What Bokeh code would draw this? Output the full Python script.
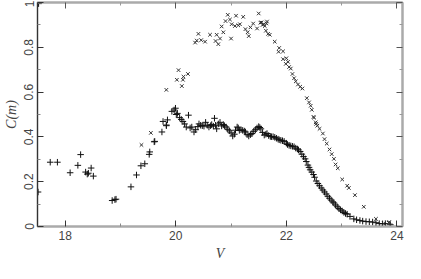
from bokeh.plotting import figure
from bokeh.models import FixedTicker, LinearAxis, Range1d
from bokeh.embed import file_html
from bokeh.resources import INLINE

plus_v = [17.51, 17.52, 17.73, 17.86, 18.09, 18.23, 18.28, 18.37, 18.40, 18.42, 18.47, 18.51,
          18.85, 18.90, 18.92, 19.19, 19.29, 19.37, 19.44, 19.52, 19.53, 19.61, 19.62, 19.75,
          19.77, 19.83, 19.83, 19.85, 19.93, 19.97, 19.995, 20.01, 20.03, 20.07, 20.10, 20.13,
          20.16, 20.19, 20.23, 20.26, 20.29, 20.33, 20.36, 20.40, 20.42, 20.45, 20.48, 20.51,
          20.54, 20.57, 20.60, 20.63, 20.65, 20.68, 20.70, 20.72, 20.74, 20.77, 20.80, 20.83,
          20.86, 20.88, 20.91, 20.94, 20.97, 21.00, 21.03, 21.06, 21.08, 21.11, 21.13, 21.15,
          21.18, 21.21, 21.24, 21.26, 21.29, 21.32, 21.35, 21.38, 21.41, 21.44, 21.47, 21.50,
          21.52, 21.54, 21.57, 21.60, 21.63, 21.65, 21.68, 21.71, 21.73, 21.76, 21.79, 21.82,
          21.85, 21.87, 21.90, 21.93, 21.96, 22.00, 22.02, 22.05, 22.08, 22.11, 22.14, 22.17,
          22.20, 22.22, 22.25, 22.28, 22.31, 22.34, 22.36, 22.39, 22.41, 22.43, 22.46, 22.49,
          22.51, 22.54, 22.57, 22.60, 22.63, 22.66, 22.69, 22.72, 22.75, 22.78, 22.81, 22.84,
          22.86, 22.89, 22.92, 22.95, 22.98, 23.01, 23.04, 23.07, 23.10, 23.15, 23.22, 23.27,
          23.33, 23.38, 23.44, 23.50, 23.56, 23.62, 23.68, 23.74, 23.79, 23.88]
plus_c = [0.154, 0.995, 0.287, 0.287, 0.240, 0.273, 0.321, 0.243, 0.234, 0.238, 0.261, 0.225,
          0.116, 0.120, 0.122, 0.177, 0.230, 0.271, 0.280, 0.322, 0.333, 0.378, 0.380, 0.422,
          0.469, 0.450, 0.453, 0.476, 0.514, 0.520, 0.528, 0.500, 0.505, 0.486, 0.478, 0.469,
          0.458, 0.444, 0.497, 0.440, 0.444, 0.422, 0.432, 0.446, 0.458, 0.452, 0.450, 0.448,
          0.465, 0.452, 0.444, 0.450, 0.455, 0.448, 0.483, 0.452, 0.436, 0.458, 0.465, 0.449,
          0.455, 0.450, 0.444, 0.434, 0.427, 0.418, 0.404, 0.412, 0.430, 0.444, 0.440, 0.429,
          0.432, 0.429, 0.426, 0.422, 0.410, 0.404, 0.410, 0.415, 0.425, 0.432, 0.440, 0.446,
          0.442, 0.436, 0.420, 0.408, 0.412, 0.415, 0.406, 0.402, 0.401, 0.401, 0.398, 0.394,
          0.390, 0.387, 0.385, 0.383, 0.380, 0.372, 0.366, 0.362, 0.360, 0.358, 0.356, 0.350,
          0.346, 0.342, 0.335, 0.323, 0.312, 0.302, 0.290, 0.274, 0.264, 0.253, 0.243, 0.232,
          0.220, 0.203, 0.192, 0.182, 0.172, 0.163, 0.154, 0.145, 0.135, 0.126, 0.118, 0.110,
          0.105, 0.096, 0.088, 0.080, 0.074, 0.069, 0.063, 0.058, 0.055, 0.045, 0.034, 0.030,
          0.027, 0.024, 0.022, 0.021, 0.020, 0.017, 0.013, 0.012, 0.013, 0.008]

x_v = [19.38, 19.55, 19.83, 20.02, 20.05, 20.11, 20.13, 20.14, 20.22, 20.35, 20.38, 20.41,
       20.46, 20.53, 20.62, 20.72, 20.74, 20.77, 20.80, 20.83, 20.86, 20.90, 20.94, 20.98,
       21.00, 21.01, 21.07, 21.09, 21.13, 21.16, 21.22, 21.26, 21.30, 21.32, 21.35, 21.40,
       21.47, 21.50, 21.53, 21.55, 21.57, 21.59, 21.61, 21.63, 21.64, 21.65, 21.67, 21.70,
       21.79, 21.86, 21.87, 21.94, 21.94, 21.99, 22.00, 22.03, 22.05, 22.08, 22.11, 22.14,
       22.17, 22.21, 22.25, 22.29, 22.37, 22.41, 22.44, 22.46, 22.49, 22.50, 22.53, 22.54,
       22.56, 22.60, 22.66, 22.69, 22.73, 22.78, 22.82, 22.86, 22.89, 22.93, 23.01, 23.10,
       23.13, 23.24, 23.40, 23.62, 23.76, 23.85, 23.86, 23.88]
x_c = [0.364, 0.418, 0.610, 0.655, 0.698, 0.627, 0.655, 0.669, 0.681, 0.821, 0.830, 0.860,
       0.832, 0.825, 0.856, 0.828, 0.856, 0.814, 0.839, 0.893, 0.867, 0.917, 0.945, 0.924,
       0.839, 0.903, 0.895, 0.941, 0.898, 0.903, 0.936, 0.881, 0.867, 0.850, 0.889, 0.906,
       0.884, 0.951, 0.910, 0.911, 0.900, 0.903, 0.895, 0.874, 0.907, 0.915, 0.860, 0.856,
       0.825, 0.780, 0.797, 0.782, 0.747, 0.726, 0.751, 0.735, 0.712, 0.705, 0.681, 0.662,
       0.648, 0.634, 0.624, 0.616, 0.573, 0.554, 0.539, 0.521, 0.489, 0.486, 0.465, 0.458,
       0.450, 0.436, 0.415, 0.390, 0.370, 0.344, 0.323, 0.302, 0.277, 0.260, 0.210, 0.182,
       0.172, 0.140, 0.088, 0.034, 0.013, 0.017, 0.020, 0.006]

x_major = [18, 20, 22, 24]
x_minor = [19, 21, 23]
y_major = [0, 0.2, 0.4, 0.6, 0.8, 1.0]
y_minor = [0.1, 0.3, 0.5, 0.7, 0.9]
y_labels = {0: "0", 0.2: "0.2", 0.4: "0.4", 0.6: "0.6", 0.8: "0.8", 1: "1"}

p = figure(width=405, height=263, output_backend="svg", toolbar_location=None,
           x_range=Range1d(17.5, 24.1), y_range=Range1d(0, 1.0),
           min_border_left=2, min_border_right=3, min_border_top=2, min_border_bottom=2)
p.grid.visible = False
p.background_fill_color = "white"
p.outline_line_color = "#aaaaaa"
p.outline_line_width = 2

p.scatter(plus_v, plus_c, marker="cross", size=6.5, line_color="#111111", line_width=1)
p.scatter(x_v, x_c, marker="x", size=5, line_color="#333333", line_width=1)

xt = FixedTicker(ticks=x_major, minor_ticks=x_minor)
yt = FixedTicker(ticks=y_major, minor_ticks=y_minor)

label_font = "Liberation Sans"

xa = p.xaxis[0]
xa.ticker = xt
xa.axis_label = "V"
xa.axis_label_text_font = "Liberation Serif"
xa.axis_label_text_font_style = "italic"
xa.axis_label_text_font_size = "14px"
xa.axis_label_standoff = 3
xa.major_label_text_font = label_font
xa.major_label_text_font_size = "12px"
xa.major_label_text_color = "#444444"
xa.major_label_standoff = 4
xa.axis_line_color = "#aaaaaa"
xa.axis_line_width = 2
xa.major_tick_in = 6
xa.major_tick_out = 0
xa.minor_tick_in = 3
xa.minor_tick_out = 0
xa.major_tick_line_color = "#333333"
xa.minor_tick_line_color = "#888888"

ya = p.yaxis[0]
ya.ticker = yt
ya.axis_label = "C(m)"
ya.axis_label_text_font = "Liberation Serif"
ya.axis_label_text_font_style = "italic"
ya.axis_label_text_font_size = "14px"
ya.axis_label_standoff = 3
ya.major_label_overrides = y_labels
ya.major_label_orientation = "vertical"
ya.major_label_text_font = label_font
ya.major_label_text_font_size = "12px"
ya.major_label_text_color = "#444444"
ya.major_label_standoff = 4
ya.axis_line_color = "#333333"
ya.axis_line_width = 1
ya.major_tick_in = 6
ya.major_tick_out = 0
ya.minor_tick_in = 3
ya.minor_tick_out = 0
ya.major_tick_line_color = "#333333"
ya.minor_tick_line_color = "#888888"

top = LinearAxis(ticker=xt, major_label_text_color=None, major_label_standoff=0,
                 major_label_text_font_size="1px",
                 axis_line_color="#aaaaaa", axis_line_width=2,
                 major_tick_in=6, major_tick_out=0, minor_tick_in=3, minor_tick_out=0,
                 major_tick_line_color="#555555", minor_tick_line_color="#999999")
right = LinearAxis(ticker=yt, major_label_text_color=None, major_label_standoff=0,
                   major_label_text_font_size="1px",
                   axis_line_color="#aaaaaa", axis_line_width=2,
                   major_tick_in=6, major_tick_out=0, minor_tick_in=3, minor_tick_out=0,
                   major_tick_line_color="#555555", minor_tick_line_color="#999999")
p.add_layout(top, "above")
p.add_layout(right, "right")

open("out.html", "w").write(file_html(p, INLINE))
